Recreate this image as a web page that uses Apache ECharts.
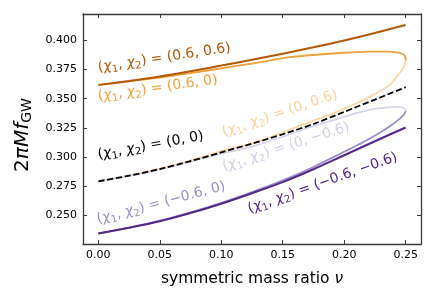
<!DOCTYPE html>
<html><head><meta charset="utf-8">
<script src="https://cdn.jsdelivr.net/npm/echarts@6/dist/echarts.min.js"></script>
<style>html,body{margin:0;padding:0;background:#fff}#c{width:436px;height:305px}</style>
</head><body><div id="c"></div>
<script>
// ---- data ----
const xTicks = [0, 0.05, 0.10, 0.15, 0.20, 0.25];
const yTicks = [0.250, 0.275, 0.300, 0.325, 0.350, 0.375, 0.400];

// (chi1,chi2) = (0.6, 0.6)
const nuA = [0, 0.025, 0.05, 0.075, 0.1, 0.125, 0.15, 0.175, 0.2, 0.225, 0.25];
const fA  = [0.3618, 0.3652, 0.3690, 0.3735, 0.3783, 0.3833, 0.3885, 0.3940, 0.3998, 0.4062, 0.4131];
// (0.6, 0) branch
const nuB = [0, 0.025, 0.05, 0.075, 0.1, 0.125, 0.156, 0.18, 0.2, 0.22, 0.235, 0.244, 0.248, 0.2497, 0.25];
const fB  = [0.3616, 0.3648, 0.3680, 0.3718, 0.3760, 0.3800, 0.3855, 0.3878, 0.3893, 0.3902, 0.3903, 0.3895, 0.3880, 0.3860, 0.3832];
// (0, 0.6) branch
const nuC = [0.25, 0.2495, 0.248, 0.245, 0.237, 0.2235, 0.21, 0.1965, 0.183, 0.1695, 0.156, 0.14, 0.12, 0.1, 0.075, 0.05, 0.025, 0];
const fC  = [0.3832, 0.3800, 0.3765, 0.3718, 0.3618, 0.3532, 0.3461, 0.3398, 0.3342, 0.3291, 0.3236, 0.3170, 0.3100, 0.3050, 0.2970, 0.2900, 0.2842, 0.2792];
// (0, 0)
const nuD = [0, 0.025, 0.05, 0.075, 0.1, 0.125, 0.15, 0.175, 0.2, 0.225, 0.25];
const fD  = [0.2792, 0.2840, 0.2897, 0.2965, 0.3040, 0.3115, 0.3195, 0.3283, 0.3387, 0.3492, 0.3598];
// (0, -0.6) branch
const nuE = [0.25, 0.2495, 0.247, 0.242, 0.235, 0.2235, 0.21, 0.1965, 0.183, 0.17, 0.156, 0.14, 0.12, 0.1, 0.075, 0.05, 0.025, 0];
const fE  = [0.3395, 0.3410, 0.3425, 0.3430, 0.3425, 0.3410, 0.3376, 0.3333, 0.3291, 0.3248, 0.3195, 0.3140, 0.3075, 0.3030, 0.2960, 0.2893, 0.2838, 0.2792];
// (-0.6, 0) branch
const nuF = [0, 0.025, 0.05, 0.075, 0.1, 0.125, 0.15, 0.175, 0.2, 0.215, 0.23, 0.24, 0.246, 0.249, 0.25];
const fF  = [0.2345, 0.2396, 0.2455, 0.2527, 0.2608, 0.2700, 0.2800, 0.2915, 0.3045, 0.3125, 0.3215, 0.3285, 0.3335, 0.3370, 0.3395];
// (-0.6, -0.6)
const nuG = [0, 0.025, 0.05, 0.075, 0.1, 0.125, 0.15, 0.175, 0.2, 0.225, 0.25];
const fG  = [0.2345, 0.2395, 0.2450, 0.2520, 0.2600, 0.2690, 0.2785, 0.2895, 0.3015, 0.3135, 0.3253];

const labelTexts = ['(0.6, 0.6)', '(0.6, 0)', '(0, 0.6)', '(0, 0)', '(0, \u22120.6)', '(\u22120.6, 0)', '(\u22120.6, \u22120.6)'];
const labelNu = [0.0008, 0.0008, 0.1035, 0.0008, 0.1035, 0.0008, 0.1245];
const labelF  = [0.3688, 0.3440, 0.3136, 0.2942, 0.2840, 0.2388, 0.2480];
const labelAngle = [8.6, 8.2, 18.5, 10.2, 17.7, 14.7, 19.4];

const cA = '#b35806', cB = '#f0a03c', cC = '#fdd6a4', cD = '#000000', cE = '#d6d6ec', cF = '#9890c6', cG = '#542788';
const labelColors = [cA, cB, '#fdd09a', cD, '#d0d0ea', cF, cG];

const zip = (xs, ys) => xs.map((x, i) => [x, ys[i]]);
const FONT = 'DejaVu Sans';
const chart = echarts.init(document.getElementById('c'), null, {renderer: 'canvas'});

function line(data, color, dashed, w) {
  return {type: 'line', data, showSymbol: false, symbol: 'none', smooth: 0.3,
    lineStyle: {color, width: w || 1.8, type: dashed ? [6.2, 2.7] : 'solid', cap: 'butt'},
    emphasis: {disabled: true}, silent: true, animation: false, clip: false};
}
const frame = {show: true, onZero: false, lineStyle: {color: '#3a3a3a', width: 1.3}};
const tick = {inside: true, length: 4, lineStyle: {color: '#3a3a3a', width: 1}};
const xMin = -0.0125, xMax = 0.2625, yMin = 0.2255, yMax = 0.4225;

chart.setOption({
  animation: false,
  grid: {left: 83, right: 15, top: 14, bottom: 61},
  xAxis: [{
    type: 'value', min: xMin, max: xMax, position: 'bottom',
    axisLine: frame, splitLine: {show: false},
    axisTick: Object.assign({customValues: xTicks}, tick),
    axisLabel: {customValues: xTicks, formatter: v => v.toFixed(2), fontFamily: FONT, fontSize: 11, color: '#000', margin: 6},
    name: 'symmetric mass ratio {i|ν}', nameLocation: 'middle', nameGap: 27,
    nameTextStyle: {fontFamily: FONT, fontSize: 15.5, color: '#000', rich: {i: {fontFamily: FONT, fontSize: 15.5, fontStyle: 'italic'}}}
  }, {
    type: 'value', min: xMin, max: xMax, position: 'top',
    axisLine: frame, splitLine: {show: false},
    axisTick: Object.assign({customValues: xTicks}, tick),
    axisLabel: {show: false}
  }],
  yAxis: [{
    type: 'value', min: yMin, max: yMax, position: 'left',
    axisLine: frame, splitLine: {show: false},
    axisTick: Object.assign({customValues: yTicks}, tick),
    axisLabel: {customValues: yTicks, formatter: v => v.toFixed(3), fontFamily: FONT, fontSize: 11, color: '#000', margin: 6},
    name: '{n|2}{i|πMf}{s|GW}', nameLocation: 'middle', nameGap: 46, nameRotate: 90,
    nameTextStyle: {fontFamily: FONT, color: '#000', padding: [0, 12, 0, 0], rich: {
      n: {fontFamily: FONT, fontSize: 20, lineHeight: 24},
      i: {fontFamily: FONT, fontSize: 20, fontStyle: 'italic', lineHeight: 24},
      s: {fontFamily: FONT, fontSize: 14, lineHeight: 14, padding: [10, 0, 0, 0], verticalAlign: 'middle'}
    }}
  }, {
    type: 'value', min: yMin, max: yMax, position: 'right',
    axisLine: frame, splitLine: {show: false},
    axisTick: Object.assign({customValues: yTicks}, tick),
    axisLabel: {show: false}
  }],
  series: [
    line(zip(nuC, fC), cC),
    line(zip(nuE, fE), cE),
    line(zip(nuB, fB), cB),
    line(zip(nuF, fF), cF),
    line(zip(nuA, fA), cA, false, 2),
    line(zip(nuG, fG), cG, false, 2),
    line(zip(nuD, fD), cD, true, 1.8)
  ]
});

const graphics = labelTexts.map((t, i) => {
  const p = chart.convertToPixel({gridIndex: 0}, [labelNu[i], labelF[i]]);
  return {
    type: 'text', x: p[0], y: p[1], rotation: labelAngle[i] * Math.PI / 180, silent: true,
    style: {
      text: '({i|χ}{s|1}, {i|χ}{s|2}) = ' + t,
      fill: labelColors[i], font: '14px "DejaVu Sans"', align: 'left', verticalAlign: 'bottom',
      rich: {
        i: {fontFamily: FONT, fontSize: 14, fontStyle: 'italic', fill: labelColors[i], lineHeight: 18},
        s: {fontFamily: FONT, fontSize: 10, fill: labelColors[i], lineHeight: 10, padding: [8, 0, 0, 0], verticalAlign: 'middle'}
      }
    }
  };
});
chart.setOption({graphic: graphics});
</script></body></html>
